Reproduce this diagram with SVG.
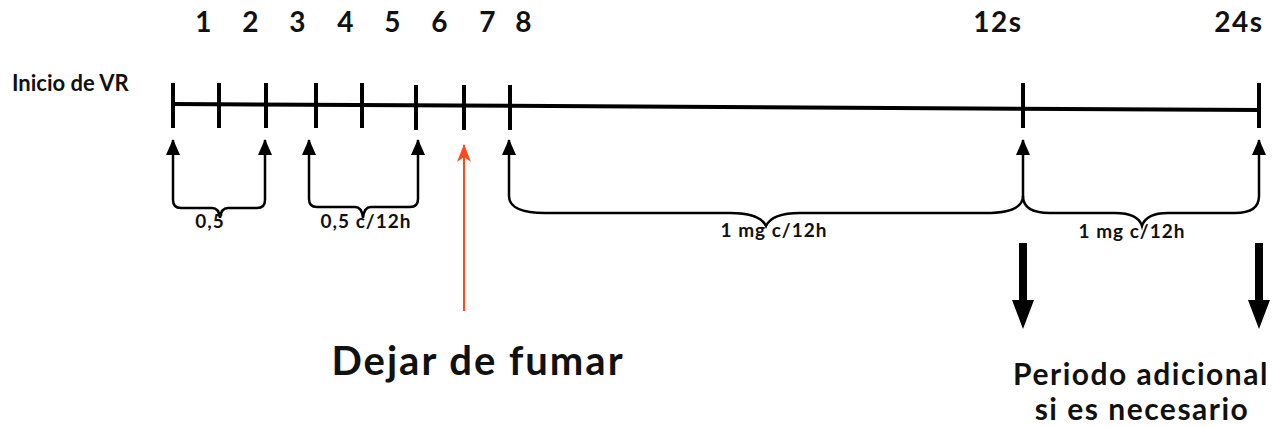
<svg xmlns="http://www.w3.org/2000/svg" width="1276" height="427" viewBox="0 0 1276 427">
<defs>
<style>
.t{font-family:Lato,"Noto Sans",sans-serif;font-weight:700;fill:#111}
.num{font-size:28px;letter-spacing:1.5px}
.small{font-size:22px}
.lbl{font-size:19px;letter-spacing:1px}
.axis{stroke:#000;stroke-width:4;fill:none}
.tick{stroke:#000;stroke-width:4}
.br{stroke:#000;stroke-width:2.5;fill:none}
</style>
<marker id="ah" viewBox="0 0 16 14" refX="15" refY="7" markerWidth="16" markerHeight="14" markerUnits="userSpaceOnUse" orient="auto-start-reverse">
<path d="M0,0 L16,7 L0,14 Z" fill="#000"/>
</marker>
<marker id="ahr" viewBox="0 0 18 14" refX="17" refY="7" markerWidth="18" markerHeight="14" markerUnits="userSpaceOnUse" orient="auto">
<path d="M0,0 L18,7 L0,14 L5,7 Z" fill="#ff4a1a"/>
</marker>
</defs>
<g id="labels">
<text class="t num" x="204" y="32" text-anchor="middle">1</text>
<text class="t num" x="251" y="32" text-anchor="middle">2</text>
<text class="t num" x="298" y="32" text-anchor="middle">3</text>
<text class="t num" x="346" y="32" text-anchor="middle">4</text>
<text class="t num" x="393" y="32" text-anchor="middle">5</text>
<text class="t num" x="440" y="32" text-anchor="middle">6</text>
<text class="t num" x="488" y="32" text-anchor="middle">7</text>
<text class="t num" x="524" y="32" text-anchor="middle">8</text>
<text class="t num" x="998" y="32" text-anchor="middle">12s</text>
<text class="t num" x="1239" y="32" text-anchor="middle">24s</text>
<text class="t small" x="12" y="91">Inicio de VR</text>
</g>
<g id="timeline">
<path class="axis" d="M172,104 L1260,110"/>
<line class="tick" x1="173" y1="83" x2="173" y2="128"/>
<line class="tick" x1="219" y1="83" x2="219" y2="128"/>
<line class="tick" x1="266" y1="83" x2="266" y2="128"/>
<line class="tick" x1="316" y1="83" x2="316" y2="128"/>
<line class="tick" x1="362" y1="83" x2="362" y2="128"/>
<line class="tick" x1="416" y1="85" x2="416" y2="130"/>
<line class="tick" x1="464" y1="85" x2="464" y2="130"/>
<line class="tick" x1="510" y1="85" x2="510" y2="130"/>
<line class="tick" x1="1023" y1="83" x2="1023" y2="128"/>
<line class="tick" x1="1259" y1="83" x2="1259" y2="128"/>
</g>
<g id="connectors">
<path class="br" marker-start="url(#ah)" marker-end="url(#ah)" d="M173,140 L173,200 Q173,208 181,208 L212,208 Q219,208 220,218 Q221,208 228,208 L257,208 Q265,208 265,200 L265,140"/>
<path class="br" marker-start="url(#ah)" marker-end="url(#ah)" d="M309,140 L309,199 Q309,207 317,207 L355,207 Q362,207 363,218 Q364,207 371,207 L410,207 Q418,207 418,199 L418,140"/>
<path class="br" marker-start="url(#ah)" marker-end="url(#ah)" d="M509,140 L509,196 Q509,213 545,213 L730,213 Q760,213 766,226 Q772,213 800,213 L985,213 Q1023,213 1023,196 L1023,140"/>
<path class="br" marker-end="url(#ah)" d="M1023,196 Q1023,213 1050,213 L1115,213 Q1138,213 1142,226 Q1146,213 1168,213 L1235,213 Q1259,213 1259,196 L1259,140"/>
<line x1="464" y1="311" x2="464" y2="145" stroke="#ff4a1a" stroke-width="2" marker-end="url(#ahr)"/>
<path d="M1019,243 L1027,243 L1027,300 L1034,300 L1023,329 L1012,300 L1019,300 Z" fill="#000"/>
<path d="M1255,243 L1263,243 L1263,300 L1270,300 L1259,329 L1248,300 L1255,300 Z" fill="#000"/>
</g>
<g id="dose-labels">
<text class="t lbl" x="210" y="228" text-anchor="middle">0,5</text>
<text class="t lbl" x="366" y="228" text-anchor="middle">0,5 c/12h</text>
<text class="t lbl" x="774" y="237" text-anchor="middle">1 mg c/12h</text>
<text class="t lbl" x="1132" y="238" text-anchor="middle">1 mg c/12h</text>
</g>
<g id="dejar">
<text class="t" x="478" y="375" text-anchor="middle" font-size="40" letter-spacing="2">Dejar de fumar</text>
</g>
<g id="periodo">
<text class="t" x="1141" y="385" text-anchor="middle" font-size="30" letter-spacing="1.5">Periodo adicional</text>
<text class="t" x="1142" y="420" text-anchor="middle" font-size="30" letter-spacing="1.5">si es necesario</text>
</g>
</svg>
